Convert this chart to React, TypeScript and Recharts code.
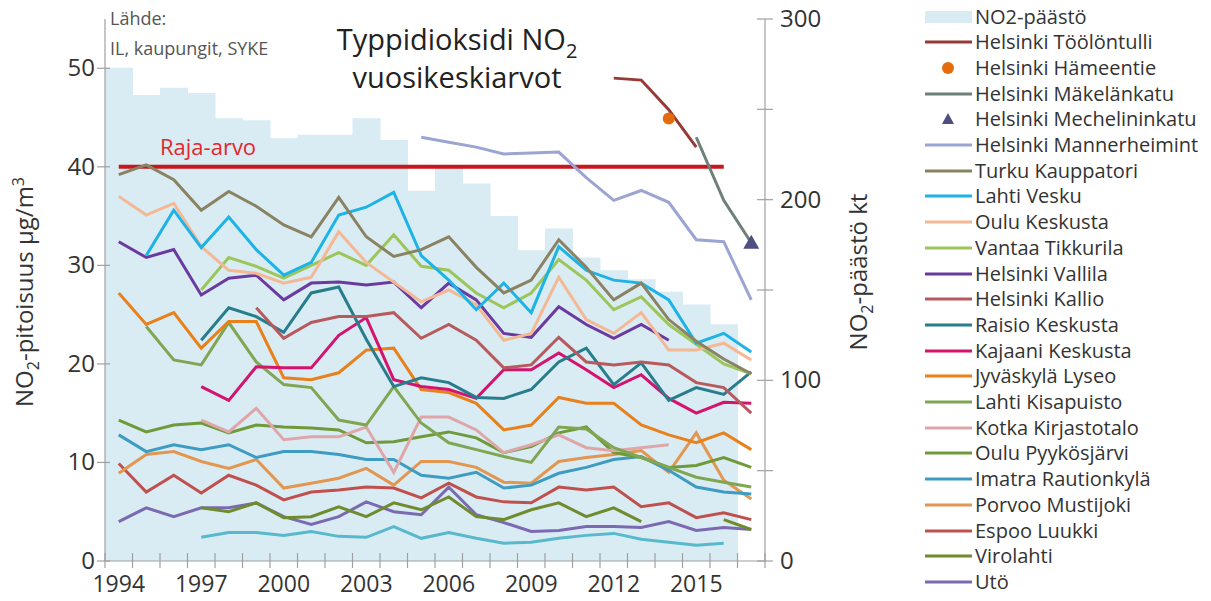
import React from "react";
import { ComposedChart, Bar, Line, XAxis, YAxis } from "recharts";

const years = [
  1994, 1995, 1996, 1997, 1998, 1999, 2000, 2001, 2002, 2003, 2004, 2005,
  2006, 2007, 2008, 2009, 2010, 2011, 2012, 2013, 2014, 2015, 2016, 2017,
];

// NO2-päästö, kt (right axis)
const paasto = [273, 258, 262, 259, 245, 244, 234, 236, 236, 245, 233, 205, 219, 209, 191, 172, 184, 168, 161, 156, 149, 142, 131, null];

const _ = null;
const rajaArvo = [40, 40, 40, 40, 40, 40, 40, 40, 40, 40, 40, 40, 40, 40, 40, 40, 40, 40, 40, 40, 40, 40, 40, _];
const toolontulli = [_, _, _, _, _, _, _, _, _, _, _, _, _, _, _, _, _, _, 49.0, 48.8, 45.8, 42.0, _, _];
const hameentie = [_, _, _, _, _, _, _, _, _, _, _, _, _, _, _, _, _, _, _, _, 44.9, _, _, _];
const makelankatu = [_, _, _, _, _, _, _, _, _, _, _, _, _, _, _, _, _, _, _, _, _, 43.0, 36.6, 32.3];
const mechelininkatu = [_, _, _, _, _, _, _, _, _, _, _, _, _, _, _, _, _, _, _, _, _, _, _, 32.3];
const mannerheimint = [_, _, _, _, _, _, _, _, _, _, _, 43.0, 42.5, 42.0, 41.3, 41.4, 41.5, 38.9, 36.6, 37.6, 36.4, 32.6, 32.4, 26.5];
const turku = [39.2, 40.2, 38.7, 35.6, 37.5, 36.0, 34.1, 32.9, 36.9, 32.9, 30.9, 31.6, 32.9, 29.8, 27.2, 28.5, 32.6, 29.8, 26.5, 28.2, 24.5, 22.3, 20.5, 19.0];
const lahtiVesku = [_, 31.0, 35.6, 31.8, 34.9, 31.6, 29.0, 30.3, 35.1, 35.9, 37.4, 31.0, 28.5, 25.5, 28.2, 25.2, 31.9, 29.5, 28.5, 28.2, 26.5, 22.1, 23.1, 21.2];
const ouluKeskusta = [37.0, 35.1, 36.3, 31.9, 29.5, 29.2, 28.2, 28.8, 33.4, 30.3, 28.3, 26.3, 27.5, 26.0, 22.4, 23.1, 28.8, 24.5, 23.1, 25.2, 21.4, 21.4, 22.1, 20.4];
const vantaa = [_, _, _, 27.5, 30.8, 29.9, 28.7, 30.0, 31.3, 30.0, 33.1, 29.9, 29.5, 27.2, 25.7, 27.2, 30.6, 28.5, 25.5, 26.8, 24.0, 22.0, 20.0, 19.0];
const vallila = [32.4, 30.8, 31.6, 27.0, 28.7, 29.0, 26.5, 28.2, 28.3, 28.0, 28.3, 25.7, 28.2, 26.5, 23.1, 22.7, 25.8, 24.0, 22.6, 24.0, 22.4, _, _, _];
const kallio = [_, _, _, _, _, 25.7, 22.6, 24.2, 24.8, 24.8, 25.2, 22.6, 24.0, 22.4, 19.6, 19.9, 22.7, 20.2, 19.9, 20.2, 19.9, 18.1, 17.6, 15.0];
const raisio = [_, _, _, 22.4, 25.7, 24.8, 23.2, 27.2, 27.8, 22.5, 17.7, 18.6, 18.1, 16.6, 16.5, 17.4, 20.2, 21.6, 17.9, 20.1, 16.3, 17.6, 16.9, 19.2];
const kajaani = [_, _, _, 17.7, 16.3, 19.7, 19.6, 19.6, 22.9, 24.7, 18.4, 17.7, 17.4, 16.5, 19.4, 19.4, 21.1, 19.4, 17.6, 18.9, 16.5, 15.0, 16.1, 16.0];
const jyvaskyla = [27.2, 24.0, 25.2, 21.6, 24.3, 24.3, 18.6, 18.4, 19.1, 21.4, 21.6, 17.4, 17.1, 16.0, 13.3, 13.8, 16.6, 16.0, 16.0, 13.8, 12.8, 12.0, 13.0, 11.3];
const lahtiKisapuisto = [_, 23.8, 20.4, 19.9, 24.2, 20.2, 17.9, 17.6, 14.3, 13.8, 17.7, 14.0, 12.0, 11.3, 10.6, 10.0, 13.6, 13.4, 11.5, 10.5, 9.5, 8.5, 8.0, 7.5];
const kotka = [_, _, _, 14.3, 13.1, 15.5, 12.3, 12.6, 12.6, 13.6, 9.0, 14.6, 14.6, 13.3, 11.0, 11.8, 12.8, 11.5, 11.2, 11.5, 11.8, _, _, _];
const ouluPyykosjarvi = [14.3, 13.1, 13.8, 14.0, 13.0, 13.8, 13.6, 13.5, 13.3, 12.0, 12.1, 12.6, 13.1, 12.5, 11.0, 11.6, 13.0, 13.6, 11.0, 10.5, 9.5, 9.7, 10.5, 9.5];
const imatra = [12.8, 11.1, 11.8, 11.3, 11.8, 10.5, 11.1, 11.1, 10.8, 10.3, 10.3, 8.7, 8.4, 9.0, 7.4, 7.7, 8.9, 9.5, 10.3, 10.6, 9.2, 7.5, 7.0, 6.8];
const porvoo = [8.9, 10.8, 11.1, 10.1, 9.4, 10.3, 7.4, 7.9, 8.4, 9.4, 7.7, 10.1, 10.1, 9.5, 8.0, 7.9, 10.1, 10.5, 10.8, 11.2, 9.0, 13.0, 8.2, 6.3];
const espoo = [9.9, 7.0, 8.7, 6.9, 8.7, 7.7, 6.2, 7.0, 7.2, 7.5, 7.4, 6.4, 7.9, 6.5, 6.0, 5.9, 7.5, 7.2, 7.5, 5.5, 5.9, 4.4, 4.9, 4.2];
const virolahti = [_, _, _, 5.4, 5.0, 5.9, 4.4, 4.5, 5.5, 4.5, 5.9, 5.2, 6.5, 4.5, 4.2, 5.2, 5.9, 4.5, 5.4, 4.0, _, _, 4.2, 3.2];
const uto = [4.0, 5.4, 4.5, 5.4, 5.4, 5.9, 4.5, 3.7, 4.5, 6.0, 5.0, 4.7, 7.5, 4.7, 3.9, 3.0, 3.1, 3.5, 3.5, 3.4, 4.0, 3.1, 3.4, 3.2];
// low background line without a visible legend entry (legend cut off in the source)
const tausta = [_, _, _, 2.4, 2.9, 2.9, 2.6, 3.0, 2.5, 2.4, 3.5, 2.3, 2.9, 2.3, 1.8, 1.9, 2.3, 2.6, 2.8, 2.2, 1.9, 1.6, 1.8, _];

const leftTicks = [0, 10, 20, 30, 40, 50];
const rightTicks = [0, 50, 100, 150, 200, 250, 300];

type Series = { key: string; name: string; color: string; values: (number | null)[]; kind?: "dot" | "tri" };

const lines: Series[] = [
  { key: "tausta", name: "", color: "#58B8CC", values: tausta },
  { key: "uto", name: "Utö", color: "#7B6AB2", values: uto },
  { key: "virolahti", name: "Virolahti", color: "#6F8B2E", values: virolahti },
  { key: "espoo", name: "Espoo Luukki", color: "#C0504D", values: espoo },
  { key: "porvoo", name: "Porvoo Mustijoki", color: "#E39650", values: porvoo },
  { key: "imatra", name: "Imatra Rautionkylä", color: "#3E9BC2", values: imatra },
  { key: "ouluPyykosjarvi", name: "Oulu Pyykösjärvi", color: "#6E9A3A", values: ouluPyykosjarvi },
  { key: "kotka", name: "Kotka Kirjastotalo", color: "#DFA6AA", values: kotka },
  { key: "lahtiKisapuisto", name: "Lahti Kisapuisto", color: "#80A653", values: lahtiKisapuisto },
  { key: "jyvaskyla", name: "Jyväskylä Lyseo", color: "#E8801C", values: jyvaskyla },
  { key: "kajaani", name: "Kajaani Keskusta", color: "#D3136D", values: kajaani },
  { key: "raisio", name: "Raisio Keskusta", color: "#287D8C", values: raisio },
  { key: "kallio", name: "Helsinki Kallio", color: "#B75A5E", values: kallio },
  { key: "vallila", name: "Helsinki Vallila", color: "#6B3AA0", values: vallila },
  { key: "vantaa", name: "Vantaa Tikkurila", color: "#9CC65A", values: vantaa },
  { key: "ouluKeskusta", name: "Oulu Keskusta", color: "#F4B894", values: ouluKeskusta },
  { key: "lahtiVesku", name: "Lahti Vesku", color: "#1EB3E6", values: lahtiVesku },
  { key: "turku", name: "Turku Kauppatori", color: "#8A8262", values: turku },
  { key: "mannerheimint", name: "Helsinki Mannerheimint", color: "#9CA5D2", values: mannerheimint },
  { key: "makelankatu", name: "Helsinki Mäkelänkatu", color: "#6F7F7C", values: makelankatu },
  { key: "toolontulli", name: "Helsinki Töölöntulli", color: "#963A36", values: toolontulli },
  { key: "hameentie", name: "Helsinki Hämeentie", color: "#E46C0A", values: hameentie, kind: "dot" },
  { key: "mechelininkatu", name: "Helsinki Mechelininkatu", color: "#4E4E82", values: mechelininkatu, kind: "tri" },
];

const legendOrder = [
  "toolontulli", "hameentie", "makelankatu", "mechelininkatu", "mannerheimint", "turku",
  "lahtiVesku", "ouluKeskusta", "vantaa", "vallila", "kallio", "raisio", "kajaani",
  "jyvaskyla", "lahtiKisapuisto", "kotka", "ouluPyykosjarvi", "imatra", "porvoo",
  "espoo", "virolahti", "uto",
];

const data = years.map((year, i) => {
  const row: Record<string, number | null> = { year, paasto: paasto[i], raja: rajaArvo[i] };
  lines.forEach((s) => (row[s.key] = s.values[i]));
  return row;
});

const FONT = "'Open Sans', sans-serif";
const AXIS = "#A0A0A0";
const TXT = "#333";
const BAR = "#D9ECF3";
const PLOT_LEFT = 105;
const PLOT_RIGHT = 765;
const BAND = (PLOT_RIGHT - PLOT_LEFT) / years.length;

function XTick(props: any) {
  const { x, y, payload, index } = props;
  const edge = x - BAND / 2;
  return (
    <g>
      <line x1={edge} x2={edge} y1={y - 8} y2={y + 7} stroke={AXIS} strokeWidth={1.2} />
      {index === years.length - 1 && (
        <line x1={x + BAND / 2} x2={x + BAND / 2} y1={y - 8} y2={y + 7} stroke={AXIS} strokeWidth={1.2} />
      )}
      {index % 3 === 0 && (
        <text x={x} y={y + 31} textAnchor="middle" fontSize={23} fill={TXT} fontFamily={FONT}>
          {payload.value}
        </text>
      )}
    </g>
  );
}

function LeftTick(props: any) {
  const { x, y, payload } = props;
  return (
    <g>
      <line x1={x - 8} x2={x + 5} y1={y} y2={y} stroke={AXIS} strokeWidth={1.2} />
      <text x={x - 10} y={y + 8} textAnchor="end" fontSize={24} fill={TXT} fontFamily={FONT}>
        {payload.value}
      </text>
    </g>
  );
}

function RightTick(props: any) {
  const { x, y, payload } = props;
  return (
    <g>
      <line x1={x - 8} x2={x + 8} y1={y} y2={y} stroke={AXIS} strokeWidth={1.2} />
      {payload.value % 100 === 0 && (
        <text x={x + 15} y={y + 8} textAnchor="start" fontSize={24} fill={TXT} fontFamily={FONT}>
          {payload.value}
        </text>
      )}
    </g>
  );
}

function Triangle(props: any) {
  const { cx, cy, fill } = props;
  if (cx == null || cy == null || Number.isNaN(cy)) return <g />;
  return <path d={`M${cx},${cy - 8} L${cx + 8},${cy + 6} L${cx - 8},${cy + 6} Z`} fill={fill} />;
}

function LegendIcon({ s }: { s: Series }) {
  if (s.kind === "dot")
    return <svg width={48} height={14}><circle cx={23} cy={7} r={6} fill={s.color} /></svg>;
  if (s.kind === "tri")
    return <svg width={48} height={14}><path d="M23,1 L29,12 L17,12 Z" fill={s.color} /></svg>;
  return <svg width={48} height={14}><line x1={0} x2={47} y1={7} y2={7} stroke={s.color} strokeWidth={3} /></svg>;
}

export default function App() {
  const byKey: Record<string, Series> = {};
  lines.forEach((s) => (byKey[s.key] = s));
  const legendRows: { label: string; icon: React.ReactNode }[] = [
    { label: "NO2-päästö", icon: <svg width={48} height={14}><rect x={0} y={1} width={47} height={12} fill={BAR} /></svg> },
    ...legendOrder.map((k) => ({ label: byKey[k].name, icon: <LegendIcon s={byKey[k]} /> })),
  ];

  return (
    <div style={{ position: "relative", width: 1211, height: 601, margin: -8, background: "#fff", fontFamily: FONT }}>
      <div style={{ position: "absolute", left: 0, top: 0 }}>
        <ComposedChart
          width={860}
          height={601}
          data={data}
          margin={{ top: 19, right: 0, bottom: 0, left: 0 }}
          barCategoryGap={0}
          barGap={0}
        >
          <XAxis
            dataKey="year"
            interval={0}
            height={40}
            tickSize={0}
            tickMargin={0}
            tickLine={false}
            tick={<XTick />}
            axisLine={{ stroke: AXIS, strokeWidth: 1.2 }}
          />
          <YAxis
            yAxisId="left"
            width={105}
            domain={[0, 55]}
            ticks={leftTicks}
            interval={0}
            tickSize={0}
            tickMargin={0}
            tickLine={false}
            tick={<LeftTick />}
            axisLine={{ stroke: AXIS, strokeWidth: 1.2 }}
          />
          <YAxis
            yAxisId="right"
            orientation="right"
            width={95}
            domain={[0, 300]}
            ticks={rightTicks}
            interval={0}
            tickSize={0}
            tickMargin={0}
            tickLine={false}
            tick={<RightTick />}
            axisLine={{ stroke: AXIS, strokeWidth: 1.2 }}
          />
          <Bar yAxisId="right" dataKey="paasto" fill={BAR} isAnimationActive={false} />
          <Line
            yAxisId="left"
            dataKey="raja"
            stroke="#C8161D"
            strokeWidth={4}
            dot={false}
            isAnimationActive={false}
          />
          {lines.map((s) =>
            s.kind === "dot" ? (
              <Line
                key={s.key}
                yAxisId="left"
                dataKey={s.key}
                stroke="none"
                dot={{ r: 6, fill: s.color, stroke: "none" }}
                isAnimationActive={false}
              />
            ) : s.kind === "tri" ? (
              <Line
                key={s.key}
                yAxisId="left"
                dataKey={s.key}
                stroke="none"
                dot={<Triangle fill={s.color} />}
                isAnimationActive={false}
              />
            ) : (
              <Line
                key={s.key}
                yAxisId="left"
                dataKey={s.key}
                stroke={s.color}
                strokeWidth={3}
                dot={false}
                connectNulls={false}
                isAnimationActive={false}
              />
            )
          )}
        </ComposedChart>
      </div>

      <svg width={1211} height={601} style={{ position: "absolute", left: 0, top: 0, pointerEvents: "none" }} fontFamily={FONT}>
        <text x={110} y={25} fontSize={18} fill="#555">Lähde:</text>
        <text x={110} y={55} fontSize={18} fill="#555">IL, kaupungit, SYKE</text>
        <text x={457} y={50} fontSize={29} fill="#222" textAnchor="middle">
          Typpidioksidi NO<tspan dy={8} fontSize={20}>2</tspan>
        </text>
        <text x={457} y={88} fontSize={29} fill="#222" textAnchor="middle">vuosikeskiarvot</text>
        <text x={160} y={155} fontSize={22} fill="#E3262B">Raja-arvo</text>
        <text x={0} y={0} fontSize={24} fill={TXT} textAnchor="middle" transform="translate(33,292) rotate(-90)">
          NO<tspan dy={6} fontSize={16}>2</tspan>
          <tspan dy={-6}>-pitoisuus µg/m</tspan>
          <tspan dy={-9} fontSize={16}>3</tspan>
        </text>
        <text x={0} y={0} fontSize={24} fill={TXT} textAnchor="middle" transform="translate(867,272) rotate(-90)">
          NO<tspan dy={6} fontSize={16}>2</tspan>
          <tspan dy={-6}>-päästö kt</tspan>
        </text>
      </svg>

      <div style={{ position: "absolute", left: 925, top: 0 }}>
        {legendRows.map((r, i) => (
          <div
            key={i}
            style={{
              position: "absolute",
              left: 0,
              top: 16 + 25.7 * i - 13,
              height: 26,
              display: "flex",
              alignItems: "center",
              whiteSpace: "nowrap",
              fontSize: 20,
              color: TXT,
            }}
          >
            <span style={{ display: "inline-block", width: 50 }}>{r.icon}</span>
            <span>{r.label}</span>
          </div>
        ))}
      </div>
    </div>
  );
}
